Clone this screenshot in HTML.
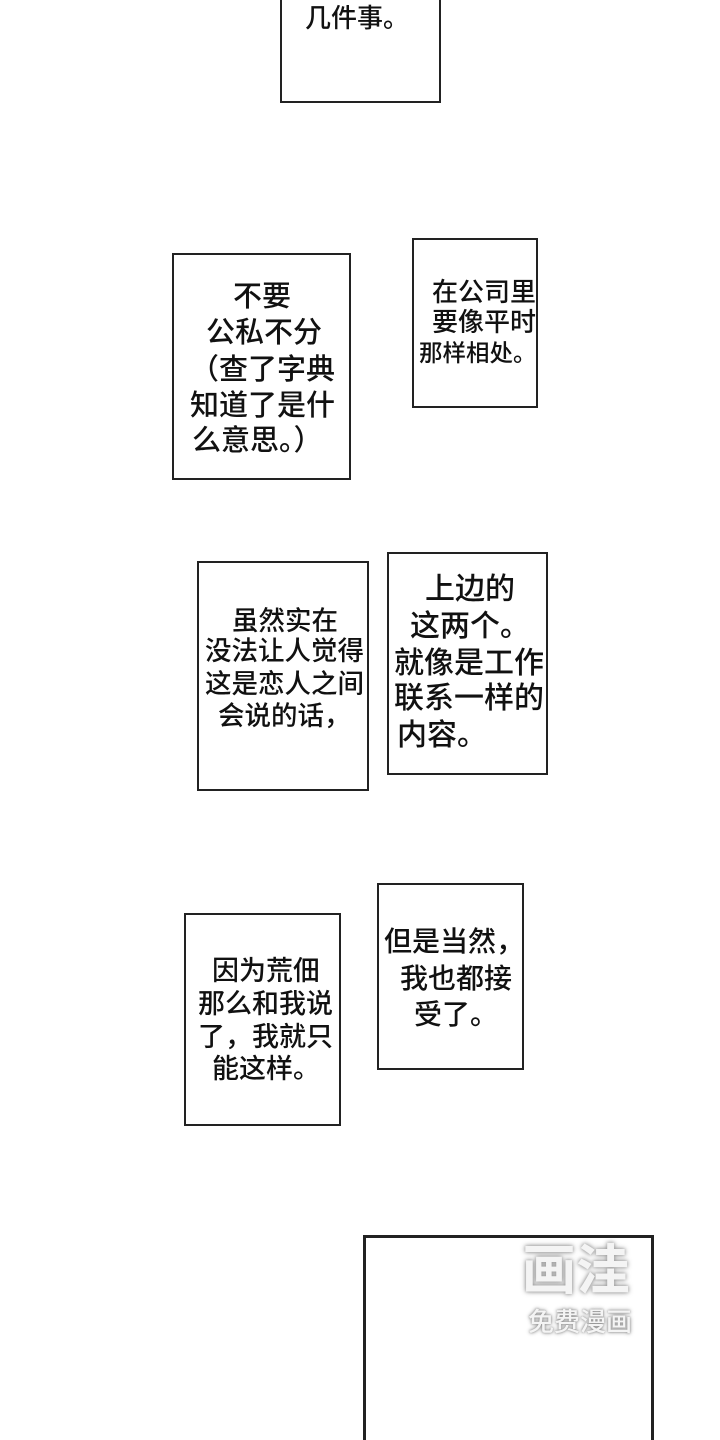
<!DOCTYPE html>
<html><head><meta charset="utf-8"><style>
html,body{margin:0;padding:0;background:#fff;width:720px;height:1440px;overflow:hidden;}
body{position:relative;font-family:"Liberation Sans","Noto Sans CJK SC",sans-serif;color:#111;}
.b{position:absolute;border:2px solid #222;box-sizing:border-box;background:#fff;}
.t{position:absolute;white-space:nowrap;font-weight:500;}
</style></head><body>
<div class="b" style="left:280px;top:-10px;width:161px;height:113px"></div>
<div class="t" style="left:305px;top:5px;font-size:26px;line-height:26px">几件事。</div>

<div class="b" style="left:172px;top:253px;width:179px;height:227px"></div>
<div class="t" style="left:233px;top:283px;font-size:29px;line-height:29px">不要</div>
<div class="t" style="left:206px;top:319px;font-size:29px;line-height:29px">公私不分</div>
<div class="t" style="left:190px;top:356px;font-size:29px;line-height:29px">（查了字典</div>
<div class="t" style="left:190px;top:392px;font-size:29px;line-height:29px">知道了是什</div>
<div class="t" style="left:192px;top:427px;font-size:29px;line-height:29px">么意思。）</div>

<div class="b" style="left:412px;top:238px;width:126px;height:170px"></div>
<div class="t" style="left:432px;top:279px;font-size:26px;line-height:26px">在公司里</div>
<div class="t" style="left:432px;top:309px;font-size:26px;line-height:26px">要像平时</div>
<div class="t" style="left:419px;top:340px;font-size:23.5px;line-height:26px">那样相处。</div>

<div class="b" style="left:197px;top:561px;width:172px;height:230px"></div>
<div class="t" style="left:232px;top:608px;font-size:26.5px;line-height:26px">虽然实在</div>
<div class="t" style="left:205px;top:638px;font-size:26.5px;line-height:26px">没法让人觉得</div>
<div class="t" style="left:205px;top:671px;font-size:26.5px;line-height:26px">这是恋人之间</div>
<div class="t" style="left:218px;top:703px;font-size:26.5px;line-height:26px">会说的话，</div>

<div class="b" style="left:387px;top:552px;width:161px;height:223px"></div>
<div class="t" style="left:425px;top:575px;font-size:30px;line-height:30px">上边的</div>
<div class="t" style="left:410px;top:612px;font-size:30px;line-height:30px">这两个。</div>
<div class="t" style="left:394px;top:649px;font-size:30px;line-height:30px">就像是工作</div>
<div class="t" style="left:394px;top:684px;font-size:30px;line-height:30px">联系一样的</div>
<div class="t" style="left:397px;top:721px;font-size:30px;line-height:30px">内容。</div>

<div class="b" style="left:184px;top:913px;width:157px;height:213px"></div>
<div class="t" style="left:212px;top:958px;font-size:27px;line-height:27px">因为荒佃</div>
<div class="t" style="left:198px;top:991px;font-size:27px;line-height:27px">那么和我说</div>
<div class="t" style="left:198px;top:1024px;font-size:27px;line-height:27px">了，我就只</div>
<div class="t" style="left:212px;top:1056px;font-size:27px;line-height:27px">能这样。</div>

<div class="b" style="left:377px;top:883px;width:147px;height:187px"></div>
<div class="t" style="left:384px;top:928px;font-size:28px;line-height:28px">但是当然，</div>
<div class="t" style="left:400px;top:965px;font-size:28px;line-height:28px">我也都接</div>
<div class="t" style="left:414px;top:1001px;font-size:28px;line-height:28px">受了。</div>

<div class="b" style="left:363px;top:1235px;width:291px;height:215px;border-width:3px"></div>
<div class="t" style="left:522px;top:1243px;font-size:54px;line-height:56px;color:#f4f4f4;font-weight:700;text-shadow:0 0 6px #999,0 0 3px #aaa">画洼</div>
<div class="t" style="left:528px;top:1308px;font-size:26px;line-height:28px;color:#f4f4f4;text-shadow:0 0 4px #888,0 0 2px #999">免费漫画</div>
</body></html>
